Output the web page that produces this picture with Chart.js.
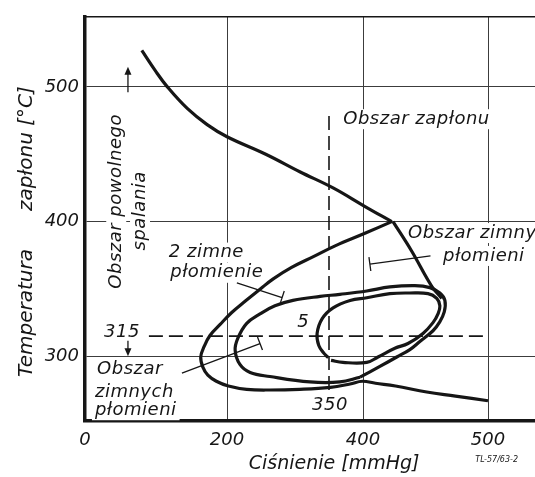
<!DOCTYPE html>
<html lang="pl">
<head>
<meta charset="utf-8">
<title>Temperatura zapłonu a ciśnienie</title>
<script src="https://cdn.jsdelivr.net/npm/chart.js@4.4.1/dist/chart.umd.min.js"></script>
<style>
  html, body { margin: 0; padding: 0; background: #ffffff; }
  canvas { display: block; }
</style>
</head>
<body>
<canvas id="chart" width="535" height="477"></canvas>
<script>
// ---- data (pressure in mmHg, temperature in °C) ----
const pressureTicks = [0, 200, 400, 500];
const temperatureTicks = [300, 400, 500];

// upper ignition boundary
const spontIgnitionP = [80, 99, 116, 144, 172, 200, 257, 307, 356, 402, 423];
const spontIgnitionT = [527, 512, 500, 484, 472, 463, 450, 437, 425, 411, 400];

// ignition boundary below the corner, down to the tip of the loops
const ignitionEdgeP = [424, 439, 455, 463];
const ignitionEdgeT = [400, 378, 352, 343];

// cold-flame region boundary, continuing as the lower tail
const coldFlameP = [423, 402, 359, 327, 295, 268, 249, 227, 207, 190, 176, 168, 163, 166, 173, 185, 202, 229, 263, 307, 352, 381, 399, 410, 426, 451, 474, 500];
const coldFlameT = [400, 391.5, 382, 374, 366, 357.5, 350, 341, 332.5, 323.5, 315.5, 307.5, 299.5, 292, 286, 281.5, 278, 275.5, 275, 275.5, 277, 279.5, 281.5, 280, 278, 273.5, 270.5, 267];

// two cold flames
const twoFlamesP = [395.6, 366, 322, 263, 234, 219, 212, 216, 229, 248.5, 270.5, 297, 337, 366, 403, 421.5, 441.5, 453.5, 461.5, 465.5, 465, 461, 456, 445.5, 437.5, 427, 413.5, 395.6];
const twoFlamesT = [284.5, 281, 281, 285, 288, 294, 304.5, 313.5, 324.5, 331.5, 337.5, 341.5, 344.5, 346, 348.5, 351.5, 352.5, 351, 347, 341.5, 333, 325, 319, 311, 305, 299.5, 292.5, 284.5];

// five cold flames
const fiveFlamesP = [353, 370.5, 403, 412, 425.5, 436, 448, 456, 460, 461.5, 459, 452, 437.5, 421.5, 403, 381, 356, 340, 332.5, 335, 343, 349];
const fiveFlamesT = [297, 295.5, 295.5, 299.5, 306, 309.5, 317, 325, 331.5, 337.5, 343, 346.5, 347, 346.5, 343.5, 341.5, 336, 328, 317, 308, 302, 299];

// marked pressure and temperature
const markerPressure = 350;
const markerPressureSpan = [275, 480];
const markerTemperature = 315;
const markerTemperatureSpan = [90, 497];

// ---- styling ----
const INK = '#161616';
const GRID = '#3c3c3c';
const FAMILY = '"DejaVu Sans", sans-serif';

// The pressure axis of this diagram is not evenly divided: each labelled
// value sits at its own share of the axis length.
const pressureAxisStops = [[0, 0], [200, 142], [400, 278], [500, 403], [538, 450]];

class PiecewiseLinearScale extends Chart.LinearScale {
  static id = 'piecewiseLinear';
  _toDecimal(v) {
    const s = pressureAxisStops, total = s[s.length - 1][1];
    let i = 1;
    while (i < s.length - 1 && v > s[i][0]) i++;
    const [v0, p0] = s[i - 1], [v1, p1] = s[i];
    return (p0 + (v - v0) * (p1 - p0) / (v1 - v0)) / total;
  }
  getPixelForValue(value) {
    if (value === null || value === undefined || isNaN(value)) return NaN;
    return this.getPixelForDecimal(this._toDecimal(value));
  }
  getValueForPixel(pixel) {
    const s = pressureAxisStops, total = s[s.length - 1][1];
    const d = this.getDecimalForPixel(pixel) * total;
    let i = 1;
    while (i < s.length - 1 && d > s[i][1]) i++;
    const [v0, p0] = s[i - 1], [v1, p1] = s[i];
    return v0 + (d - p0) * (v1 - v0) / (p1 - p0);
  }
}
Chart.register(PiecewiseLinearScale);

const pts = (P, T) => P.map((p, i) => ({ x: p, y: T[i] }));

function curve(P, T) {
  return {
    data: pts(P, T),
    showLine: true,
    borderColor: INK,
    borderWidth: 3.2,
    pointRadius: 0,
    tension: 0.4,
    fill: false
  };
}
function dashed(data) {
  return {
    data,
    showLine: true,
    borderColor: INK,
    borderWidth: 1.6,
    borderDash: [14, 6],
    pointRadius: 0,
    tension: 0,
    fill: false
  };
}

// ---- annotations in data units ----
const textNotes = [
  { text: 'Obszar zapłonu', p: 371, t: 476, align: 'left' },
  { text: 'Obszar zimnych', p: 436, t: 391.5, align: 'left' },
  { text: 'płomieni', p: 464, t: 374.5, align: 'left' },
  { text: '2 zimne', p: 118, t: 377, align: 'left' },
  { text: 'płomienie', p: 120, t: 362, align: 'left' },
  { text: '5', p: 312, t: 325, align: 'center' },
  { text: 'Obszar', p: 17, t: 290, align: 'left' },
  { text: 'zimnych', p: 14, t: 273, align: 'left' },
  { text: 'płomieni', p: 14, t: 260, align: 'left' },
  { text: '315', p: 52, t: 318, align: 'center' },
  { text: '350', p: 351.5, t: 264, align: 'center' },
  { text: 'Obszar powolnego', p: 44, t: 415, align: 'center', rotate: true },
  { text: 'spalania', p: 77.5, t: 408, align: 'center', rotate: true }
];
const leaders = [
  { from: [454, 374.5], to: [405.5, 368.5] },
  { from: [214.5, 354.5], to: [281, 343.5] },
  { from: [136.5, 287.5], to: [248.5, 309.5] }
];
const arrows = [
  { p: 60.5, from: 496, to: 515 },
  { p: 60.5, from: 311.5, to: 300 }
];

const notesPlugin = {
  id: 'diagramNotes',
  beforeDraw(chart) {
    const { ctx, width, height } = chart;
    ctx.save();
    ctx.fillStyle = '#ffffff';
    ctx.fillRect(0, 0, width, height);
    ctx.restore();
  },
  beforeDatasetsDraw(chart) {
    const { ctx, scales: { x, y } } = chart;
    ctx.save();
    ctx.font = 'italic 18px ' + FAMILY;
    ctx.letterSpacing = '0.5px';
    ctx.textBaseline = 'middle';
    for (const n of textNotes) {
      const px = x.getPixelForValue(n.p), py = y.getPixelForValue(n.t);
      const w = ctx.measureText(n.text).width;
      ctx.save();
      ctx.translate(px, py);
      if (n.rotate) ctx.rotate(-Math.PI / 2);
      const left = n.align === 'center' ? -w / 2 : 0;
      ctx.fillStyle = '#ffffff';
      ctx.fillRect(left - 3, -10, w + 6, 20);
      ctx.fillStyle = INK;
      ctx.textAlign = n.align;
      ctx.fillText(n.text, 0, 0);
      ctx.restore();
    }
    ctx.restore();
  },
  afterDatasetsDraw(chart) {
    const { ctx, scales: { x, y } } = chart;
    ctx.save();
    ctx.strokeStyle = INK;
    ctx.fillStyle = INK;
    ctx.lineWidth = 1.3;
    for (const l of leaders) {
      const x1 = x.getPixelForValue(l.from[0]), y1 = y.getPixelForValue(l.from[1]);
      const x2 = x.getPixelForValue(l.to[0]), y2 = y.getPixelForValue(l.to[1]);
      const len = Math.hypot(x2 - x1, y2 - y1);
      const nx = -(y2 - y1) / len, ny = (x2 - x1) / len;
      ctx.beginPath();
      ctx.moveTo(x1, y1); ctx.lineTo(x2, y2);
      ctx.moveTo(x2 - nx * 7, y2 - ny * 7); ctx.lineTo(x2 + nx * 7, y2 + ny * 7);
      ctx.stroke();
    }
    for (const a of arrows) {
      const ax = x.getPixelForValue(a.p);
      const y1 = y.getPixelForValue(a.from), y2 = y.getPixelForValue(a.to);
      const dir = Math.sign(y2 - y1);
      ctx.beginPath();
      ctx.moveTo(ax, y1); ctx.lineTo(ax, y2 - dir * 5);
      ctx.stroke();
      ctx.beginPath();
      ctx.moveTo(ax, y2);
      ctx.lineTo(ax - 3.5, y2 - dir * 8);
      ctx.lineTo(ax + 3.5, y2 - dir * 8);
      ctx.closePath();
      ctx.fill();
    }
    // drawing reference number under the pressure axis
    ctx.font = 'italic 8px ' + FAMILY;
    ctx.textAlign = 'center';
    ctx.textBaseline = 'middle';
    ctx.fillText('TL-57/63-2', x.getPixelForValue(507), y.getPixelForValue(223));
    ctx.restore();
  }
};

const tickFont = { family: FAMILY, style: 'italic', size: 18 };

new Chart(document.getElementById('chart'), {
  type: 'scatter',
  data: {
    datasets: [
      curve(spontIgnitionP, spontIgnitionT),
      curve(ignitionEdgeP, ignitionEdgeT),
      curve(coldFlameP, coldFlameT),
      curve(twoFlamesP, twoFlamesT),
      curve(fiveFlamesP, fiveFlamesT),
      dashed(markerPressureSpan.map(t => ({ x: markerPressure, y: t }))),
      dashed(markerTemperatureSpan.map(p => ({ x: p, y: markerTemperature })))
    ]
  },
  options: {
    responsive: false,
    animation: false,
    events: [],
    layout: { padding: 0 },
    plugins: { legend: { display: false }, tooltip: { enabled: false } },
    scales: {
      x: {
        type: 'piecewiseLinear',
        position: 'bottom',
        min: 0, max: 538,
        afterBuildTicks: s => { s.ticks = pressureTicks.map(v => ({ value: v })); },
        afterFit: s => { s.height = 56; },
        grid: { color: GRID, lineWidth: 1, drawTicks: false },
        border: { display: true, color: INK, width: 3.5 },
        ticks: { padding: 9, autoSkip: false, maxRotation: 0, color: INK, font: tickFont, callback: v => String(v) },
        title: { display: true, text: '        Ciśnienie [mmHg]', color: INK, padding: { top: 0, bottom: 2 }, font: { family: FAMILY, style: 'italic', size: 19 } }
      },
      xTop: {
        axis: 'x',
        type: 'linear',
        position: 'top',
        min: 0, max: 538,
        afterFit: s => { s.height = 15; },
        grid: { display: false, drawTicks: false },
        border: { display: true, color: INK, width: 1.5 },
        ticks: { display: false }
      },
      y: {
        type: 'linear',
        position: 'left',
        min: 252, max: 552,
        afterBuildTicks: s => { s.ticks = temperatureTicks.map(v => ({ value: v })); },
        afterFit: s => { s.width = 85; },
        grid: { color: GRID, lineWidth: 1, drawTicks: false },
        border: { display: true, color: INK, width: 3.5 },
        ticks: { padding: 6, color: INK, font: tickFont, callback: v => String(v) },
        title: { display: true, text: 'Temperatura      zapłonu [°C]    ', color: INK, padding: { top: 15, bottom: 0 }, font: { family: FAMILY, style: 'italic', size: 20 } }
      }
    }
  },
  plugins: [notesPlugin]
});
</script>
</body>
</html>
